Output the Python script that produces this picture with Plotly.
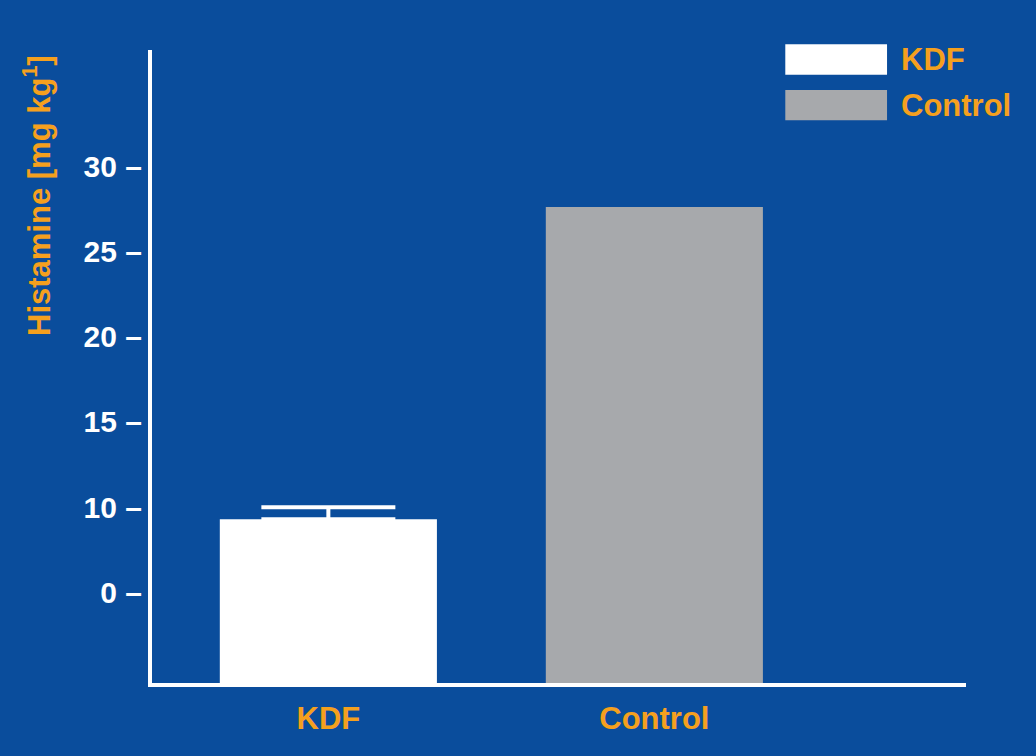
import plotly.graph_objects as go

categories = ["KDF", "Control"]
values = [9.3, 27.6]
kdf_err_plus = [0.7]
bar_colors = ["#ffffff", "#a7a9ac"]
tick_positions = [5, 10, 15, 20, 25, 30]
tick_labels = ["0", "10", "15", "20", "25", "30"]
legend_labels = ["KDF", "Control"]

BG = "#0a4d9c"
ORANGE = "#f5a01e"
FONT = "Liberation Sans, Arial, sans-serif"
AXIS_BOTTOM = -0.3  # bars start at the x-axis line

fig = go.Figure()
fig.add_trace(go.Bar(
    x=[categories[0]], y=[values[0] - AXIS_BOTTOM], base=AXIS_BOTTOM,
    marker=dict(color=bar_colors[0], line=dict(width=0)),
    width=0.666,
    error_y=dict(type="data", symmetric=False, array=kdf_err_plus,
                 arrayminus=[0], color="#ffffff", thickness=4, width=67),
    showlegend=False,
))
fig.add_trace(go.Bar(
    x=[categories[1]], y=[values[1] - AXIS_BOTTOM], base=AXIS_BOTTOM,
    marker=dict(color=bar_colors[1], line=dict(width=0)),
    width=0.666,
    showlegend=False,
))

fig.update_layout(
    width=1036, height=756,
    paper_bgcolor=BG, plot_bgcolor=BG,
    margin=dict(l=152, r=70, t=50, b=73),
    font=dict(family=FONT, color="#ffffff"),
    barmode="overlay",
    xaxis=dict(
        range=[-0.541, 1.956], showgrid=False, zeroline=False,
        showline=True, linecolor="#ffffff", linewidth=4,
        ticks="", tickfont=dict(size=31, color=ORANGE, family=FONT, weight="bold"),
        ticklabelstandoff=5,
    ),
    yaxis=dict(
        range=[AXIS_BOTTOM, 36.8], showgrid=False, zeroline=False,
        showline=True, linecolor="#ffffff", linewidth=4,
        tickmode="array", tickvals=tick_positions,
        ticktext=[t + " \u2013" for t in tick_labels],
        ticks="", ticklabelstandoff=0,
        tickfont=dict(size=30, color="#ffffff", family=FONT, weight="bold"),
    ),
)

# Y-axis title
fig.add_annotation(
    text="Histamine [mg kg<sup>1</sup>]", xref="paper", yref="paper",
    x=-0.142, y=0.77, textangle=-90, showarrow=False,
    xanchor="center", yanchor="middle",
    font=dict(size=31, color=ORANGE, family=FONT, weight="bold"),
)

# Legend (custom, large swatches)
legend_y = [0.985, 0.913]
for lbl, col, yy in zip(legend_labels, bar_colors, legend_y):
    fig.add_shape(type="rect", xref="paper", yref="paper",
                  x0=0.778, x1=0.903, y0=yy - 0.024, y1=yy + 0.024,
                  fillcolor=col, line=dict(width=0))
    fig.add_annotation(text=lbl, xref="paper", yref="paper",
                       x=0.918, y=yy, xanchor="left", yanchor="middle",
                       showarrow=False,
                       font=dict(size=31, color=ORANGE, family=FONT, weight="bold"))

fig.write_html(
    "out.html",
    config={"displayModeBar": False},
    post_script="document.body.style.margin='0';document.body.style.padding='0';"
                "document.body.style.background='" + BG + "';",
)
